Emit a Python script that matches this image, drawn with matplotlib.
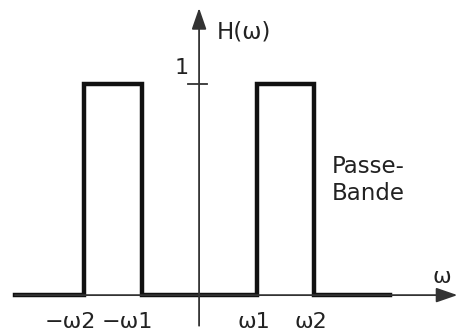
import matplotlib.pyplot as plt

# filter response (omega in units where w1 = 1, w2 = 2)
omega = [-3.2, -2, -2, -1, -1, 1, 1, 2, 2, 3.32]
H = [0, 0, 1, 1, 0, 0, 1, 1, 0, 0]

tick_pos = [-2, -1, 1, 2]
tick_labels = ["\u2212\u03c92", "\u2212\u03c91", "\u03c91", "\u03c92"]

plt.rcParams['font.family'] = ['DejaVu Sans']
txt = "#222222"

fig = plt.figure(figsize=(4.58, 3.31), dpi=100)
ax = fig.add_axes([0, 0, 1, 1])
ax.set_xlim(-3.46, 4.5)
ax.set_ylim(-0.17, 1.398)
ax.axis("off")

# axes with arrows
arrow = dict(arrowstyle="-|>,head_length=1.3,head_width=0.45",
             color="#333333", lw=1.3, shrinkA=0, shrinkB=0)
ax.annotate("", xy=(4.49, 0), xytext=(-3.2, 0), arrowprops=arrow,
            annotation_clip=False)
ax.annotate("", xy=(0, 1.36), xytext=(0, -0.145), arrowprops=arrow,
            annotation_clip=False)

# tick at H = 1
ax.plot([-0.19, 0.14], [1, 1], color="#333333", lw=1.3)
ax.text(-0.3, 1.075, "1", fontsize=16, color=txt, ha="center", va="center")

ax.plot(omega, H, color="#111111", lw=3.2, solid_joinstyle="miter")

for p, lab in zip(tick_pos, tick_labels):
    ax.text(p + (-0.24 if p < 0 else -0.05), -0.128, lab,
            fontsize=16, color=txt, ha="center", va="center")

ax.text(0.31, 1.245, "H(\u03c9)", fontsize=16.5, color=txt, ha="left", va="center")
ax.text(2.31, 0.545, "Passe-\nBande", fontsize=16.5, color=txt, ha="left",
        va="center", linespacing=1.25)
ax.text(4.05, 0.085, "\u03c9", fontsize=16, color=txt, ha="left", va="center")

fig.savefig("out.png", dpi=100)
